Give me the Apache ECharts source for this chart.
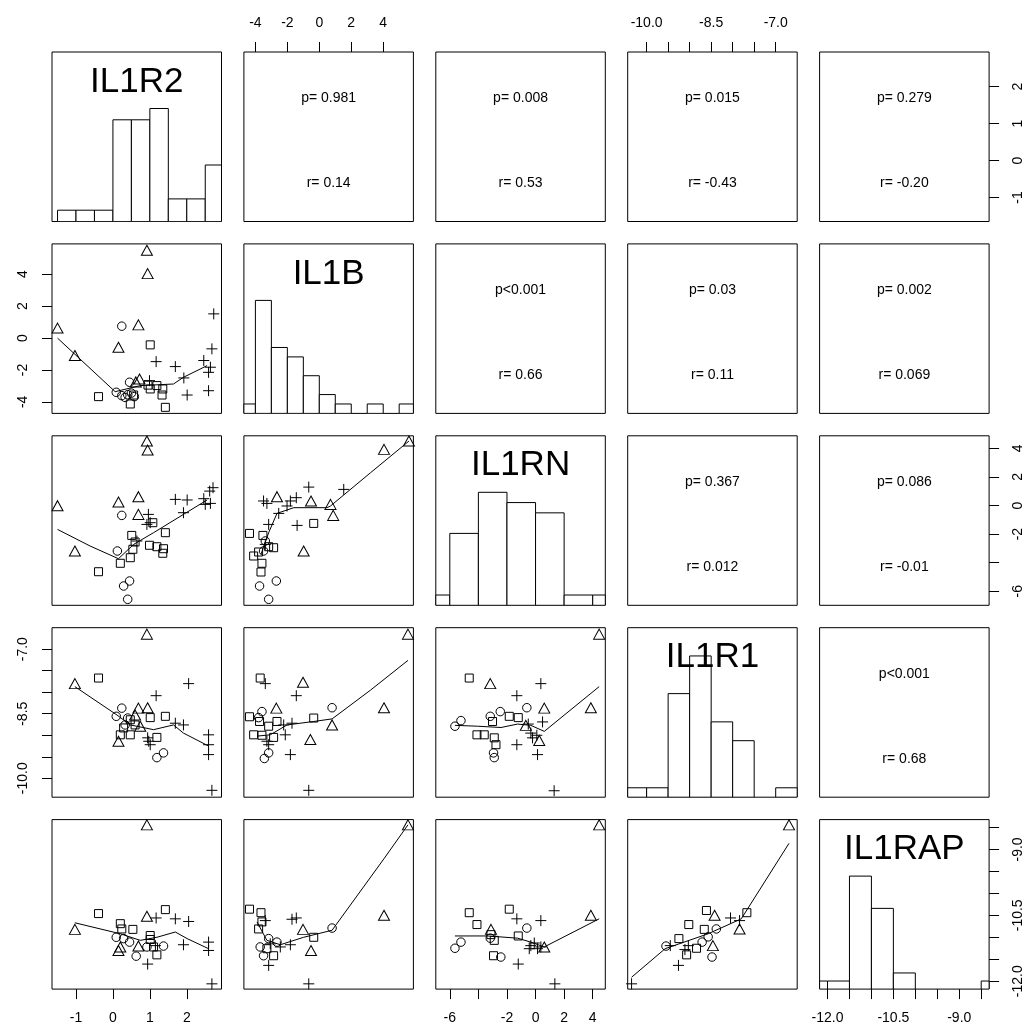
<!DOCTYPE html>
<html><head><meta charset="utf-8">
<script src="https://cdn.jsdelivr.net/npm/echarts@6/dist/echarts.min.js"></script>
<style>html,body{margin:0;padding:0;background:#fff}#c{width:1031px;height:1034px}</style>
</head><body><div id="c"></div>
<script>
// ---------------- data ----------------
const varNames = ['IL1R2', 'IL1B', 'IL1RN', 'IL1R1', 'IL1RAP'];
const varRanges = [[-1.65, 2.94], [-4.72, 5.89], [-6.98, 4.88], [-10.44, -6.50], [-12.18, -8.32]];
const tickValues = [[-1, 0, 1, 2], [-4, -2, 0, 2, 4], [-6, -4, -2, 0, 2, 4],
  [-10, -9.5, -9, -8.5, -8, -7.5, -7], [-12, -11.5, -11, -10.5, -10, -9.5, -9, -8.5]];
const labelValues = [[-1, 0, 1, 2], [-4, -2, 0, 2, 4], [-6, -2, 0, 2, 4], [-10, -8.5, -7], [-12, -10.5, -9]];
const labelDecimals = [0, 0, 0, 1, 1];

// histogram bin edges and counts
const histEdges = [
  [-1.5, -1, -0.5, 0, 0.5, 1, 1.5, 2, 2.5, 3],
  [-5, -4, -3, -2, -1, 0, 1, 2, 3, 4, 5, 6],
  [-8, -6, -4, -2, 0, 2, 4, 6],
  [-10.5, -10, -9.5, -9, -8.5, -8, -7.5, -7, -6.5],
  [-12.5, -12, -11.5, -11, -10.5, -10, -9.5, -9, -8.5, -8]
];
const histCounts = [
  [1, 1, 1, 9, 9, 10, 2, 2, 5],
  [1, 12, 7, 6, 4, 2, 1, 0, 1, 0, 1],
  [1, 7, 11, 10, 9, 1, 1],
  [1, 1, 11, 15, 8, 6, 0, 1],
  [1, 1, 14, 10, 2, 0, 0, 0, 1]
];
// vertical extent of each histogram panel, in units of the tallest bar
const histTop = [1.5, 1.5, 1.5, 1.2, 1.5];

// upper-panel statistics
const statRows = [0, 0, 0, 0, 1, 1, 1, 2, 2, 3];
const statCols = [1, 2, 3, 4, 2, 3, 4, 3, 4, 4];
const pTexts = ['p= 0.981', 'p= 0.008', 'p= 0.015', 'p= 0.279', 'p<0.001', 'p= 0.03', 'p= 0.002', 'p= 0.367', 'p= 0.086', 'p<0.001'];
const rTexts = ['r= 0.14', 'r= 0.53', 'r= -0.43', 'r= -0.20', 'r= 0.66', 'r= 0.11', 'r= 0.069', 'r= 0.012', 'r= -0.01', 'r= 0.68'];

// scatter points per lower panel: [x, y, group]  T triangle, C circle, S square, P plus
const r2c1 = [
  [0.92,5.49,'T'],[0.94,4.03,'T'],[-1.50,0.62,'T'],[0.69,0.82,'T'],[0.15,-0.58,'T'],[-1.03,-1.10,'T'],[0.72,-2.57,'T'],[0.62,-2.75,'T'],
  [0.24,0.74,'C'],[0.45,-2.77,'C'],[0.09,-3.40,'C'],[0.24,-3.61,'C'],[0.33,-3.72,'C'],[0.58,-3.67,'C'],[0.50,-3.45,'C'],[0.40,-3.55,'C'],
  [1.01,-0.43,'S'],[-0.39,-3.67,'S'],[1.42,-4.34,'S'],[0.47,-4.13,'S'],[0.56,-3.57,'S'],[1.01,-3.19,'S'],[1.19,-2.98,'S'],[1.33,-3.57,'S'],[1.35,-3.19,'S'],[0.95,-2.95,'S'],
  [1.17,-1.48,'P'],[1.69,-1.79,'P'],[2.73,1.51,'P'],[2.68,-0.68,'P'],[2.46,-1.41,'P'],[2.64,-1.83,'P'],[2.59,-2.15,'P'],[1.92,-2.50,'P'],[2.01,-3.57,'P'],[2.59,-3.30,'P'],[0.99,-2.67,'P']
];
const r3c1 = [
  [0.92,4.51,'T'],[0.94,3.88,'T'],[-1.50,-0.01,'T'],[0.15,0.25,'T'],[0.69,0.62,'T'],[0.69,-0.62,'T'],[-1.03,-3.18,'T'],
  [0.24,-0.69,'C'],[0.12,-3.18,'C'],[0.45,-5.28,'C'],[0.29,-5.63,'C'],[0.40,-6.56,'C'],
  [0.51,-2.09,'S'],[0.60,-2.55,'S'],[0.54,-3.06,'S'],[0.47,-3.65,'S'],[0.20,-4.04,'S'],[-0.39,-4.63,'S'],[1.08,-1.20,'S'],[1.42,-1.90,'S'],[0.99,-2.78,'S'],[1.19,-2.88,'S'],[1.37,-3.02,'S'],[1.35,-3.34,'S'],
  [0.96,-0.62,'P'],[1.01,-1.20,'P'],[0.92,-1.32,'P'],[1.69,0.43,'P'],[2.01,0.39,'P'],[1.91,-0.50,'P'],[2.46,0.48,'P'],[2.50,0.08,'P'],[2.64,0.15,'P'],[2.71,1.25,'P'],[2.62,1.01,'P'],[0.65,-2.48,'P']
];
const r3c2 = [
  [5.61,4.51,'T'],[4.05,3.93,'T'],[-2.65,0.62,'T'],[-0.52,0.32,'T'],[0.70,0.08,'T'],[0.87,-0.69,'T'],[-0.98,-3.18,'T'],
  [-0.66,1.29,'P'],[1.53,1.13,'P'],[-3.49,0.32,'P'],[-3.28,0.15,'P'],[-1.81,0.32,'P'],[-1.44,0.55,'P'],[-2.02,-0.03,'P'],[-2.54,-0.55,'P'],[-3.17,-1.32,'P'],[-1.39,-1.39,'P'],[-3.38,-2.72,'P'],
  [-3.74,-5.63,'C'],[-2.69,-5.28,'C'],[-3.17,-6.56,'C'],[-3.38,-2.48,'C'],[-3.49,-3.18,'C'],
  [-4.37,-1.95,'S'],[-0.35,-1.25,'S'],[-3.53,-2.09,'S'],[-2.86,-2.95,'S'],[-3.17,-2.88,'S'],[-4.11,-3.53,'S'],[-3.59,-4.04,'S'],[-3.65,-4.65,'S'],[-3.80,-3.25,'S']
];
const r4c1 = [
  [0.92,-6.65,'T'],[-1.03,-7.80,'T'],[0.69,-8.37,'T'],[0.94,-8.36,'T'],[0.60,-8.53,'T'],[0.74,-8.79,'T'],[0.15,-9.14,'T'],
  [-0.39,-7.67,'S'],[1.01,-8.59,'S'],[1.42,-8.56,'S'],[0.47,-8.64,'S'],[0.29,-8.83,'S'],[0.47,-8.99,'S'],[0.20,-8.99,'S'],[1.19,-9.05,'S'],[0.60,-8.76,'S'],
  [0.24,-8.37,'C'],[0.09,-8.56,'C'],[0.33,-8.76,'C'],[1.19,-9.52,'C'],[1.37,-9.41,'C'],[0.40,-8.60,'C'],
  [2.05,-7.80,'P'],[1.17,-8.08,'P'],[1.69,-8.72,'P'],[1.91,-8.76,'P'],[2.59,-8.99,'P'],[2.59,-9.22,'P'],[2.59,-9.45,'P'],[2.68,-10.28,'P'],[0.97,-9.14,'P'],[1.01,-9.22,'P'],[0.94,-9.06,'P']
];
const r4c2 = [
  [5.55,-6.65,'T'],[-1.02,-7.77,'T'],[4.05,-8.36,'T'],[-2.69,-8.37,'T'],[0.80,-8.76,'T'],[-0.56,-9.10,'T'],
  [-3.70,-7.67,'S'],[-4.37,-8.57,'S'],[-3.74,-8.68,'S'],[-2.65,-8.68,'S'],[-0.35,-8.60,'S'],[-4.11,-8.99,'S'],[-3.59,-9.00,'S'],[-2.86,-9.05,'S'],[-3.17,-8.79,'S'],
  [-3.59,-8.45,'C'],[-3.80,-8.59,'C'],[0.80,-8.36,'C'],[-3.44,-9.54,'C'],[-3.17,-9.41,'C'],
  [-3.38,-7.80,'P'],[-1.44,-8.08,'P'],[-1.71,-8.72,'P'],[-2.13,-8.99,'P'],[-1.81,-9.45,'P'],[-0.66,-10.28,'P'],[-3.28,-9.14,'P'],[-3.17,-9.22,'P'],[-2.23,-8.76,'P']
];
const r4c3 = [
  [4.45,-6.65,'T'],[-3.17,-7.80,'T'],[3.87,-8.36,'T'],[0.61,-8.37,'T'],[-0.68,-8.77,'T'],[0.26,-9.12,'T'],
  [-4.64,-7.67,'S'],[-1.84,-8.56,'S'],[-1.21,-8.59,'S'],[-3.01,-8.68,'S'],[-4.10,-8.99,'S'],[-3.59,-8.99,'S'],[-2.89,-9.06,'S'],[-2.77,-9.22,'S'],
  [-5.64,-8.79,'C'],[-5.22,-8.66,'C'],[-3.17,-8.56,'C'],[-2.47,-8.45,'C'],[-0.61,-8.36,'C'],[-2.94,-9.41,'C'],[-2.89,-9.52,'C'],
  [0.37,-7.80,'P'],[-1.31,-8.08,'P'],[0.49,-8.69,'P'],[-0.33,-8.95,'P'],[-0.21,-9.06,'P'],[0.09,-9.00,'P'],[-1.31,-9.22,'P'],[0.14,-9.45,'P'],[1.30,-10.29,'P'],[-0.51,-8.74,'P']
];
const r5c1 = [
  [0.92,-8.44,'T'],[-1.03,-10.82,'T'],[0.92,-10.52,'T'],[0.15,-11.30,'T'],[0.69,-11.20,'T'],[0.20,-11.22,'T'],
  [-0.39,-10.46,'S'],[1.42,-10.37,'S'],[0.20,-10.69,'S'],[0.24,-10.81,'S'],[0.54,-10.82,'S'],[1.01,-10.96,'S'],[1.01,-11.05,'S'],[1.19,-11.40,'S'],[1.10,-11.22,'S'],
  [0.09,-11.00,'C'],[0.45,-11.11,'C'],[0.63,-11.43,'C'],[0.29,-11.03,'C'],[1.37,-11.20,'C'],[0.92,-11.22,'C'],
  [1.17,-10.56,'P'],[1.69,-10.58,'P'],[2.05,-10.64,'P'],[1.91,-11.17,'P'],[2.59,-11.11,'P'],[2.59,-11.30,'P'],[0.94,-11.61,'P'],[2.68,-12.06,'P'],[1.15,-11.19,'P']
];
const r5c2 = [
  [5.55,-8.44,'T'],[4.05,-10.50,'T'],[-1.02,-10.82,'T'],[-0.52,-11.30,'T'],
  [-4.37,-10.36,'S'],[-3.65,-10.44,'S'],[-3.59,-10.65,'S'],[-0.35,-11.00,'S'],[-2.86,-11.42,'S'],[-3.28,-11.26,'S'],[-3.80,-10.81,'S'],
  [0.80,-10.79,'C'],[-3.49,-11.42,'C'],[-3.70,-11.22,'C'],[-3.17,-11.03,'C'],[-2.65,-11.11,'C'],
  [-3.38,-10.62,'P'],[-1.71,-10.59,'P'],[-1.44,-10.56,'P'],[-3.17,-11.64,'P'],[-0.66,-12.06,'P'],[-1.81,-11.17,'P'],[-2.44,-11.22,'P'],[-3.07,-11.15,'P']
];
const r5c3 = [
  [4.45,-8.44,'T'],[3.87,-10.50,'T'],[-3.12,-10.82,'T'],[0.61,-11.22,'T'],
  [-4.64,-10.44,'S'],[-4.10,-10.71,'S'],[-1.84,-10.36,'S'],[-3.12,-10.94,'S'],[-1.21,-10.97,'S'],[-2.89,-11.07,'S'],[-2.94,-11.42,'S'],
  [-5.64,-11.25,'C'],[-5.22,-11.11,'C'],[-0.61,-10.79,'C'],[-3.17,-11.02,'C'],[-2.43,-11.45,'C'],
  [-1.31,-10.58,'P'],[0.37,-10.62,'P'],[-0.33,-11.19,'P'],[0.14,-11.26,'P'],[0.37,-11.22,'P'],[-0.44,-11.26,'P'],[-1.21,-11.61,'P'],[1.35,-12.06,'P'],[-0.09,-11.13,'P']
];
const r5c4 = [
  [-6.69,-8.44,'T'],[-7.84,-10.81,'T'],[-8.42,-10.50,'T'],[-8.46,-11.19,'T'],
  [-7.67,-10.44,'S'],[-8.61,-10.39,'S'],[-9.02,-10.71,'S'],[-8.66,-10.82,'S'],[-9.25,-11.03,'S'],[-9.07,-11.40,'S'],[-8.84,-11.25,'S'],
  [-8.38,-10.81,'C'],[-8.48,-11.45,'C'],[-9.55,-11.20,'C'],[-8.57,-10.99,'C'],[-8.71,-11.11,'C'],
  [-8.05,-10.56,'P'],[-9.26,-11.64,'P'],[-10.35,-12.06,'P'],[-9.45,-11.19,'P'],[-9.11,-11.28,'P'],[-9.03,-11.19,'P'],[-7.84,-10.62,'P']
];

// smoother lines per lower panel
const s2c1 = [[-1.50,-0.01],[0.06,-3.36],[0.74,-2.98],[1.64,-2.88],[1.91,-2.46],[2.55,-1.73]];
const s3c1 = [[-1.50,-1.67],[-0.62,-2.83],[0.15,-3.72],[0.56,-2.72],[1.10,-1.90],[1.91,-0.62],[2.55,0.39]];
const s3c2 = [[-3.65,-3.41],[-3.17,-1.90],[-2.65,-0.55],[-1.60,-0.15],[0.49,-0.15],[0.70,-0.03],[3.21,2.30],[5.61,4.51]];
const s4c1 = [[-1.03,-7.87],[0.11,-8.53],[0.47,-8.76],[1.10,-8.87],[1.64,-8.76],[1.91,-8.95],[2.59,-9.25]];
const s4c2 = [[-3.90,-9.02],[-3.07,-8.99],[-2.02,-8.76],[-0.35,-8.68],[0.80,-8.62],[3.21,-7.95],[5.55,-7.26]];
const s4c3 = [[-5.64,-8.77],[-4.06,-8.79],[-2.42,-8.82],[-1.26,-8.74],[-0.33,-8.77],[0.61,-8.91],[4.45,-7.87]];
const s5c1 = [[-1.03,-10.67],[0.20,-10.92],[0.74,-11.07],[1.19,-11.00],[1.69,-10.88],[2.01,-11.03],[2.59,-11.26]];
const s5c2 = [[-3.90,-10.65],[-3.28,-11.07],[-2.44,-11.17],[-0.98,-11.00],[0.80,-10.84],[4.05,-9.21],[5.55,-8.44]];
const s5c3 = [[-5.64,-10.97],[-3.36,-10.97],[-1.26,-11.02],[-0.33,-11.11],[0.61,-11.22],[4.45,-10.58]];
const s5c4 = [[-10.35,-11.91],[-9.57,-11.26],[-8.57,-10.92],[-7.80,-10.58],[-6.69,-8.86]];

const lowerPanels = [
  [1, 0, r2c1, s2c1], [2, 0, r3c1, s3c1], [2, 1, r3c2, s3c2],
  [3, 0, r4c1, s4c1], [3, 1, r4c2, s4c2], [3, 2, r4c3, s4c3],
  [4, 0, r5c1, s5c1], [4, 1, r5c2, s5c2], [4, 2, r5c3, s5c3], [4, 3, r5c4, s5c4]
];

// ---------------- layout ----------------
const LEFT0 = 52, TOP0 = 52, STEP = 191.9, SIZE = 169.5;
const FONT = '"Liberation Sans", Arial, Helvetica, sans-serif';
const PLUS = 'path://M5,0L5,10M0,5L10,5';
const symbolOf = { T: 'triangle', C: 'circle', S: 'rect', P: PLUS };
const sizeOf = { T: [11, 10], C: 8.5, S: 8, P: 11 };

const grids = [], xAxes = [], yAxes = [], series = [], graphics = [];

function fmt(v, d) { return d ? v.toFixed(d) : String(Math.round(v)); }
function axisStyle(varIdx, position, rotate) {
  return {
    show: true, position: position,
    axisLine: { show: false, onZero: false },
    axisTick: { show: true, length: 10, customValues: tickValues[varIdx], lineStyle: { color: '#000', width: 1 } },
    axisLabel: { show: true, customValues: labelValues[varIdx], rotate: rotate, margin: 22,
      formatter: v => fmt(v, labelDecimals[varIdx]), color: '#000', fontSize: 14, fontFamily: FONT },
    splitLine: { show: false }
  };
}
function hiddenAxis(g, mn, mx) {
  return { type: 'value', gridIndex: g, min: mn, max: mx, show: false,
    axisLine: { show: false, onZero: false }, splitLine: { show: false } };
}

for (let i = 0; i < 5; i++) {
  for (let j = 0; j < 5; j++) {
    const g = i * 5 + j;
    grids.push({ left: LEFT0 + j * STEP, top: TOP0 + i * STEP, width: SIZE, height: SIZE,
      show: true, borderColor: '#000', borderWidth: 1, backgroundColor: 'rgba(0,0,0,0)', containLabel: false });
    const xa = hiddenAxis(g, varRanges[j][0], varRanges[j][1]);
    const ya = i === j ? hiddenAxis(g, 0, histTop[i]) : hiddenAxis(g, varRanges[i][0], varRanges[i][1]);
    if (i === 0 && j % 2 === 1) Object.assign(xa, axisStyle(j, 'top', 0));
    if (i === 4 && j % 2 === 0) Object.assign(xa, axisStyle(j, 'bottom', 0));
    if (j === 0 && i % 2 === 1) Object.assign(ya, axisStyle(i, 'left', 90));
    if (j === 4 && i % 2 === 0 && i !== 4) Object.assign(ya, axisStyle(i, 'right', 90));
    xAxes.push(xa); yAxes.push(ya);
  }
}
// extra right axis for the bottom-right panel (its own variable scale)
yAxes.push(Object.assign(hiddenAxis(24, varRanges[4][0], varRanges[4][1]), axisStyle(4, 'right', 90)));
series.push({ type: 'scatter', xAxisIndex: 24, yAxisIndex: 25, data: [], silent: true });

// lower panels: scatter + smoother
lowerPanels.forEach(([i, j, pts, smooth]) => {
  const g = i * 5 + j;
  series.push({
    type: 'scatter', xAxisIndex: g, yAxisIndex: g, silent: true,
    data: pts.map(p => ({ value: [p[0], p[1]], symbol: symbolOf[p[2]], symbolSize: sizeOf[p[2]] })),
    itemStyle: { color: 'rgba(0,0,0,0)', borderColor: '#000', borderWidth: 1, opacity: 1 }
  });
  series.push({
    type: 'line', xAxisIndex: g, yAxisIndex: g, silent: true, showSymbol: false, symbol: 'none',
    data: smooth, lineStyle: { color: '#000', width: 1 }
  });
});

// diagonal: histograms + variable names
for (let k = 0; k < 5; k++) {
  const g = k * 5 + k;
  const mx = Math.max(...histCounts[k]);
  const data = histCounts[k].map((c, b) => [histEdges[k][b], histEdges[k][b + 1], c / mx]);
  series.push({
    type: 'custom', xAxisIndex: g, yAxisIndex: g, silent: true, clip: true, data: data,
    encode: { x: [0, 1], y: 2 },
    renderItem: (params, api) => {
      const h = api.value(2);
      if (!h) return null;
      const p0 = api.coord([api.value(0), 0]);
      const p1 = api.coord([api.value(1), h]);
      const cs = params.coordSys;
      const x0 = Math.max(p0[0], cs.x), x1 = Math.min(p1[0], cs.x + cs.width);
      if (x1 <= x0) return null;
      return { type: 'rect', shape: { x: x0, y: p1[1], width: x1 - x0, height: p0[1] - p1[1] },
        style: { fill: '#fff', stroke: '#000', lineWidth: 1 } };
    }
  });
  graphics.push({ type: 'text', x: LEFT0 + k * STEP + SIZE / 2, y: TOP0 + k * STEP + 30, z: 100,
    style: { text: varNames[k], fill: '#000', font: '35px ' + FONT, align: 'center', verticalAlign: 'middle' } });
}

// upper panels: p and r text
statRows.forEach((i, n) => {
  const j = statCols[n];
  const cx = LEFT0 + j * STEP + SIZE / 2;
  graphics.push({ type: 'text', x: cx, y: TOP0 + i * STEP + 46,
    style: { text: pTexts[n], fill: '#000', font: '14px ' + FONT, align: 'center', verticalAlign: 'middle' } });
  graphics.push({ type: 'text', x: cx, y: TOP0 + i * STEP + 131,
    style: { text: rTexts[n], fill: '#000', font: '14px ' + FONT, align: 'center', verticalAlign: 'middle' } });
});

const chart = echarts.init(document.getElementById('c'), null, { renderer: 'canvas' });
chart.setOption({
  animation: false,
  backgroundColor: '#fff',
  grid: grids, xAxis: xAxes, yAxis: yAxes, series: series,
  graphic: { elements: graphics }
});
</script>
</body></html>
